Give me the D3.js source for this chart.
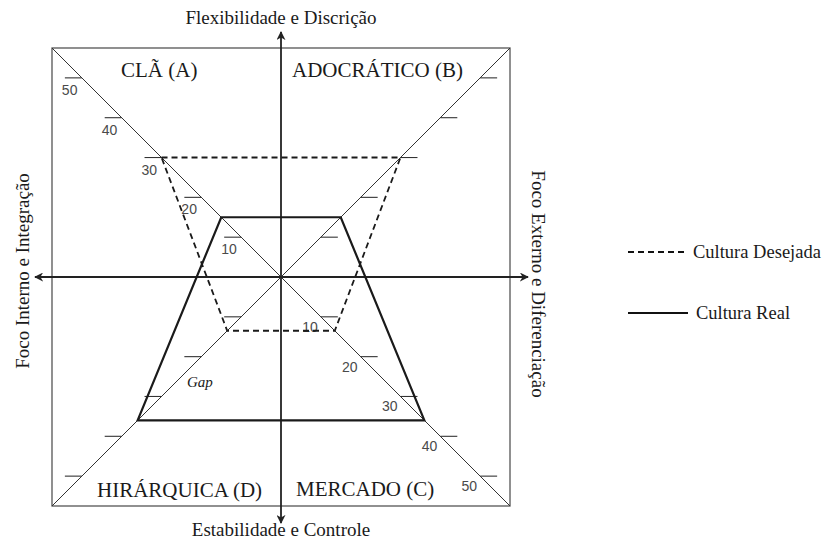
<!DOCTYPE html>
<html>
<head>
<meta charset="utf-8">
<script src="https://cdn.jsdelivr.net/npm/d3@7"></script>
<style>
  body { margin: 0; background: #fff; }
  text { font-family: "Liberation Serif", "Times New Roman", serif; fill: #1a1a1a; }
  .num { font-family: "Liberation Sans", Arial, sans-serif; fill: #4a4a4a; }
</style>
</head>
<body>
<div id="chart"></div>
<script>
// quadrants of the competing values framework, from top-left clockwise
var quadrants = ["A", "B", "C", "D"];
var quadrantNames = ["CLÃ (A)", "ADOCRÁTICO (B)", "MERCADO (C)", "HIRÁRQUICA (D)"];
var culturaReal = [15, 15, 36, 36];
var culturaDesejada = [30, 30, 13.5, 13.5];
var tickValues = [10, 20, 30, 40, 50];
var axisTitles = ["Flexibilidade e Discrição", "Estabilidade e Controle",
                  "Foco Interno e Integração", "Foco Externo e Diferenciação"];
var legendNames = ["Cultura Desejada", "Cultura Real"];

var width = 828, height = 541;
var cx = 281, cy = 277, half = 229;
var dirs = { A: [-1, -1], B: [1, -1], C: [1, 1], D: [-1, 1] };

var r = d3.scaleLinear().domain([0, 57.5]).range([0, half]);

function pt(q, v) {
    return [cx + dirs[q][0] * r(v), cy + dirs[q][1] * r(v)];
}

var svg = d3.select("#chart").append("svg")
    .attr("width", width)
    .attr("height", height);

svg.append("defs").append("marker")
    .attr("id", "arrow")
    .attr("viewBox", "0 0 10 10")
    .attr("refX", 9).attr("refY", 5)
    .attr("markerWidth", 5).attr("markerHeight", 5)
    .attr("markerUnits", "strokeWidth")
    .attr("orient", "auto")
    .append("path")
    .attr("d", "M0,0L10,5L0,10L3,5Z")
    .attr("fill", "#222");

// outer box
svg.append("rect")
    .attr("x", cx - half).attr("y", cy - half)
    .attr("width", 2 * half).attr("height", 2 * half)
    .attr("fill", "none")
    .attr("stroke", "#555")
    .attr("stroke-width", 1.3);

// diagonals
svg.selectAll(".diag")
    .data(quadrants)
    .enter().append("line")
    .attr("class", "diag")
    .attr("x1", cx).attr("y1", cy)
    .attr("x2", function (q) { return pt(q, 57.5)[0]; })
    .attr("y2", function (q) { return pt(q, 57.5)[1]; })
    .attr("stroke", "#333")
    .attr("stroke-width", 1);

// tick marks on each diagonal
var tickData = [];
quadrants.forEach(function (q) {
    tickValues.forEach(function (v) { tickData.push({ q: q, v: v }); });
});

svg.selectAll(".tick")
    .data(tickData)
    .enter().append("line")
    .attr("class", "tick")
    .attr("x1", function (d) { return pt(d.q, d.v)[0]; })
    .attr("x2", function (d) { return pt(d.q, d.v)[0] + dirs[d.q][0] * 17; })
    .attr("y1", function (d) { return pt(d.q, d.v)[1]; })
    .attr("y2", function (d) { return pt(d.q, d.v)[1]; })
    .attr("stroke", "#333")
    .attr("stroke-width", 1.1);

// tick labels on A and C diagonals
svg.selectAll(".numA")
    .data(tickValues)
    .enter().append("text")
    .attr("class", "num")
    .attr("x", function (v) { return pt("A", v)[0] - 20; })
    .attr("y", function (v) { return pt("A", v)[1] + 17; })
    .attr("font-size", 14)
    .text(function (v) { return v; });

svg.selectAll(".numC")
    .data(tickValues)
    .enter().append("text")
    .attr("class", "num")
    .attr("text-anchor", "end")
    .attr("x", function (v) { return pt("C", v)[0] - 3; })
    .attr("y", function (v) { return pt("C", v)[1] + 15; })
    .attr("font-size", 14)
    .text(function (v) { return v; });

// main axes with arrows at both ends
svg.append("line")
    .attr("x1", cx).attr("y1", cy).attr("x2", cx).attr("y2", 32)
    .attr("stroke", "#222").attr("stroke-width", 1.8)
    .attr("marker-end", "url(#arrow)");
svg.append("line")
    .attr("x1", cx).attr("y1", cy).attr("x2", cx).attr("y2", 523)
    .attr("stroke", "#222").attr("stroke-width", 1.8)
    .attr("marker-end", "url(#arrow)");
svg.append("line")
    .attr("x1", cx).attr("y1", cy).attr("x2", 35).attr("y2", cy)
    .attr("stroke", "#222").attr("stroke-width", 1.8)
    .attr("marker-end", "url(#arrow)");
svg.append("line")
    .attr("x1", cx).attr("y1", cy).attr("x2", 528).attr("y2", cy)
    .attr("stroke", "#222").attr("stroke-width", 1.8)
    .attr("marker-end", "url(#arrow)");

// culture profiles
var line = d3.line().curve(d3.curveLinearClosed);

svg.append("path")
    .attr("d", line(quadrants.map(function (q, i) { return pt(q, culturaDesejada[i]); })))
    .attr("fill", "none")
    .attr("stroke", "#1a1a1a")
    .attr("stroke-width", 1.8)
    .attr("stroke-dasharray", "6,4");

svg.append("path")
    .attr("d", line(quadrants.map(function (q, i) { return pt(q, culturaReal[i]); })))
    .attr("fill", "none")
    .attr("stroke", "#1a1a1a")
    .attr("stroke-width", 2.2);

// quadrant names
var nameX = [121, 292, 296, 97];
var nameY = [77, 77, 496, 497];
svg.selectAll(".qname")
    .data(quadrantNames)
    .enter().append("text")
    .attr("x", function (d, i) { return nameX[i]; })
    .attr("y", function (d, i) { return nameY[i]; })
    .attr("font-size", 21)
    .text(function (d) { return d; });

svg.append("text")
    .attr("x", 187).attr("y", 387)
    .attr("font-size", 15)
    .attr("font-style", "italic")
    .text("Gap");

// axis titles
svg.append("text")
    .attr("x", cx).attr("y", 24)
    .attr("text-anchor", "middle")
    .attr("font-size", 19)
    .text(axisTitles[0]);
svg.append("text")
    .attr("x", cx).attr("y", 536)
    .attr("text-anchor", "middle")
    .attr("font-size", 19)
    .text(axisTitles[1]);
svg.append("text")
    .attr("transform", "translate(29,271) rotate(-90)")
    .attr("text-anchor", "middle")
    .attr("font-size", 19)
    .text(axisTitles[2]);
svg.append("text")
    .attr("transform", "translate(532,284) rotate(90)")
    .attr("text-anchor", "middle")
    .attr("font-size", 19)
    .text(axisTitles[3]);

// legend
var legend = svg.selectAll(".legend")
    .data(legendNames)
    .enter().append("g")
    .attr("class", "legend")
    .attr("transform", function (d, i) { return "translate(628," + (252 + i * 61) + ")"; });

legend.append("line")
    .attr("x1", 0).attr("x2", 60)
    .attr("y1", 0).attr("y2", 0)
    .attr("stroke", "#111")
    .attr("stroke-width", 2)
    .attr("stroke-dasharray", function (d, i) { return i == 0 ? "6,4" : null; });

legend.append("text")
    .attr("x", function (d, i) { return i == 0 ? 65 : 68; })
    .attr("y", 6)
    .attr("font-size", 18.5)
    .text(function (d) { return d; });
</script>
</body>
</html>
